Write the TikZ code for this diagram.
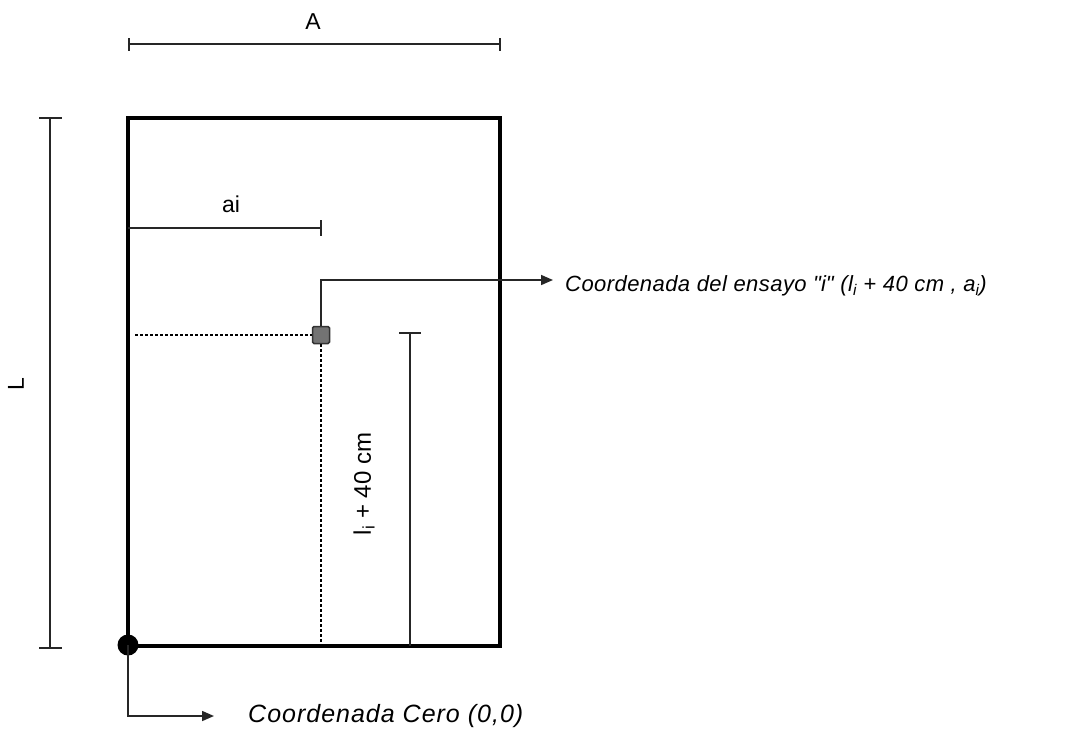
\documentclass[tikz,border=0pt]{standalone}
\usepackage{fontspec}
\setmainfont{Liberation Sans}
\usetikzlibrary{arrows.meta}
\begin{document}
\begin{tikzpicture}[x=1pt,y=-1pt,
  dim/.style={line width=1.6pt, draw=black!85},
  lead/.style={line width=1.6pt, draw=black!85, -{Triangle[length=12pt,width=10pt]}},
  dots/.style={line width=1.4pt, dash pattern=on 2.5pt off 2.5pt},
  lbl/.style={anchor=west, inner sep=0pt},
  dlbl/.style={font=\fontsize{23}{26}\selectfont, inner sep=0pt}]
\useasboundingbox (0,0) rectangle (1075,729);
% plot
\draw[line width=3.2pt] (128,118) rectangle (500,646);
% A dimension
\coordinate (a1) at (129,44); \coordinate (a2) at (500,44);
\draw[dim] (a1) -- (a2);
\draw[dim] (129,38) -- (129,51); \draw[dim] (500,38) -- (500,51);
\node[dlbl] (A) at (313,22) {A};
% L dimension
\coordinate (l1) at (50,118); \coordinate (l2) at (50,648);
\draw[dim] (l1) -- (l2);
\draw[dim] (39,118) -- (62,118); \draw[dim] (39,648) -- (62,648);
\node[dlbl, rotate=90] (L) at (16,384) {L};
% ai dimension
\coordinate (ai1) at (128,228); \coordinate (ai2) at (321,228);
\draw[dim] (ai1) -- (ai2);
\draw[dim] (321,220) -- (321,236);
\node[dlbl] (ai) at (231,204) {ai};
% li dimension
\coordinate (li1) at (410,333); \coordinate (li2) at (410,646);
\draw[dim] (li1) -- (li2);
\draw[dim] (399,333) -- (421,333);
\node[dlbl, rotate=90, font=\fontsize{24}{27}\selectfont] (li) at (364,484) {l\textsubscript{i} + 40 cm};
% test point
\node[draw=black!80, fill=black!55, line width=1.5pt, minimum size=17pt, inner sep=0pt, rounded corners=1.5pt] (pt) at (321,335) {};
\coordinate (dh) at (135,335);
\coordinate (dv) at (321,646);
\draw[dots] (dh) -- (pt.west);
\draw[dots] (pt.south) -- (dv);
\node[lbl, font=\fontsize{22}{25}\selectfont\itshape\addfontfeature{LetterSpace=2}] (t1) at (565,286) {Coordenada del ensayo \textquotedbl i\textquotedbl\ (l\textsubscript{i} + 40 cm , a\textsubscript{i})};
\coordinate (p1) at (553,280);
\draw[lead] (pt.north) |- (p1);
% origin
\node[circle, fill=black, minimum size=21pt, inner sep=0pt] (o) at (128,645) {};
\node[lbl, font=\fontsize{25}{28}\selectfont\itshape\addfontfeature{LetterSpace=4}] (t2) at (248,716) {Coordenada Cero (0,0)};
\coordinate (p2) at (214,716);
\draw[lead] (o.center) |- (p2);
\end{tikzpicture}
\end{document}
